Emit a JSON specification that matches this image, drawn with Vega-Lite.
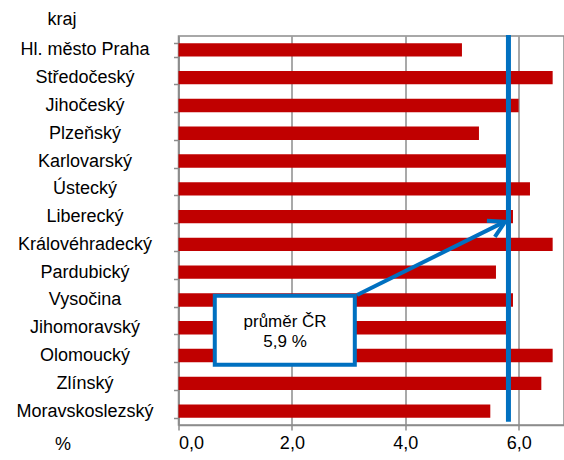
{
  "$schema": "https://vega.github.io/schema/vega-lite/v6.json",
  "width": 385.5,
  "height": 389,
  "autosize": {"type": "none"},
  "padding": {"left": 178.5, "top": 36, "right": 0, "bottom": 35},
  "background": "white",
  "config": {
    "view": {"stroke": "#8c8c8c", "strokeWidth": 1.5},
    "font": "Liberation Sans",
    "axis": {
      "labelFont": "Liberation Sans",
      "titleFont": "Liberation Sans",
      "labelColor": "#000000",
      "titleColor": "#000000",
      "labelFontSize": 18,
      "titleFontSize": 18,
      "titleFontWeight": "normal",
      "domainColor": "#8c8c8c",
      "domainWidth": 1.5,
      "tickColor": "#8c8c8c",
      "tickWidth": 1.5,
      "gridColor": "#8c8c8c",
      "gridWidth": 1.5,
      "gridOpacity": 1
    }
  },
  "datasets": {
    "kraje": [
      {"kraj": "Hl. město Praha", "x": 5.0},
      {"kraj": "Středočeský", "x": 6.6},
      {"kraj": "Jihočeský", "x": 6.0},
      {"kraj": "Plzeňský", "x": 5.3},
      {"kraj": "Karlovarský", "x": 5.8},
      {"kraj": "Ústecký", "x": 6.2},
      {"kraj": "Liberecký", "x": 5.9},
      {"kraj": "Královéhradecký", "x": 6.6},
      {"kraj": "Pardubický", "x": 5.6},
      {"kraj": "Vysočina", "x": 5.9},
      {"kraj": "Jihomoravský", "x": 5.8},
      {"kraj": "Olomoucký", "x": 6.6},
      {"kraj": "Zlínský", "x": 6.4},
      {"kraj": "Moravskoslezský", "x": 5.5}
    ]
  },
  "resolve": {"scale": {"y": "independent"}},
  "layer": [
    {
      "data": {"name": "kraje"},
      "mark": {"type": "bar", "color": "#C00000"},
      "encoding": {
        "y": {
          "field": "kraj",
          "type": "nominal",
          "sort": null,
          "scale": {"paddingInner": 0.52, "paddingOuter": 0.26},
          "axis": {
            "title": "kraj",
            "titleAngle": 0,
            "titleAlign": "center",
            "titleBaseline": "middle",
            "titleX": -117,
            "titleY": -17,
            "labelAlign": "center",
            "labelBaseline": "middle",
            "labelPadding": 89,
            "tickBand": "extent",
            "tickSize": 5,
            "grid": false,
            "labelLimit": 300
          }
        },
        "x": {
          "field": "x",
          "type": "quantitative",
          "scale": {"domain": [0, 6.8], "nice": false, "zero": true},
          "axis": {
            "title": "%",
            "titleAlign": "center",
            "titleBaseline": "middle",
            "titleX": -116,
            "titleY": 19,
            "values": [0, 2, 4, 6],
            "labelExpr": "replace(format(datum.value, '.1f'), '.', ',')",
            "labelPadding": 4,
            "labelBaseline": "top",
            "tickSize": 5,
            "grid": true
          }
        }
      }
    },
    {
      "layer": [
        {
          "data": {"values": [{"x": 5.82, "y": -0.04, "y2": 13.88}]},
          "mark": {"type": "rule", "color": "#0070C0", "strokeWidth": 5},
          "encoding": {
            "x": {"field": "x", "type": "quantitative"},
            "y": {"field": "y", "type": "quantitative", "scale": {"domain": [0, 14], "reverse": true, "nice": false, "zero": false}, "axis": null},
            "y2": {"field": "y2"}
          }
        },
        {
          "data": {"values": [
            {"seg": "shaft", "o": 0, "x": 3.15, "y": 9.32},
            {"seg": "shaft", "o": 1, "x": 5.74, "y": 6.7},
            {"seg": "head", "o": 0, "x": 5.44, "y": 6.65},
            {"seg": "head", "o": 1, "x": 5.76, "y": 6.69},
            {"seg": "head", "o": 2, "x": 5.58, "y": 7.23}
          ]},
          "mark": {"type": "line", "color": "#0070C0", "strokeWidth": 4, "strokeCap": "butt", "strokeJoin": "miter"},
          "encoding": {
            "x": {"field": "x", "type": "quantitative"},
            "y": {"field": "y", "type": "quantitative"},
            "detail": {"field": "seg"},
            "order": {"field": "o"}
          }
        },
        {
          "data": {"values": [{"x": 0.64, "x2": 3.11, "y": 9.35, "y2": 11.83}]},
          "mark": {"type": "rect", "fill": "white", "stroke": "#0070C0", "strokeWidth": 4},
          "encoding": {
            "x": {"field": "x", "type": "quantitative"},
            "x2": {"field": "x2"},
            "y": {"field": "y", "type": "quantitative"},
            "y2": {"field": "y2"}
          }
        },
        {
          "data": {"values": [
            {"t": "průměr ČR", "x": 1.88, "y": 10.28},
            {"t": "5,9 %", "x": 1.88, "y": 11.0}
          ]},
          "mark": {"type": "text", "font": "Liberation Sans", "fontSize": 17, "color": "#000000", "align": "center", "baseline": "middle"},
          "encoding": {
            "x": {"field": "x", "type": "quantitative"},
            "y": {"field": "y", "type": "quantitative"},
            "text": {"field": "t"}
          }
        }
      ]
    }
  ]
}
